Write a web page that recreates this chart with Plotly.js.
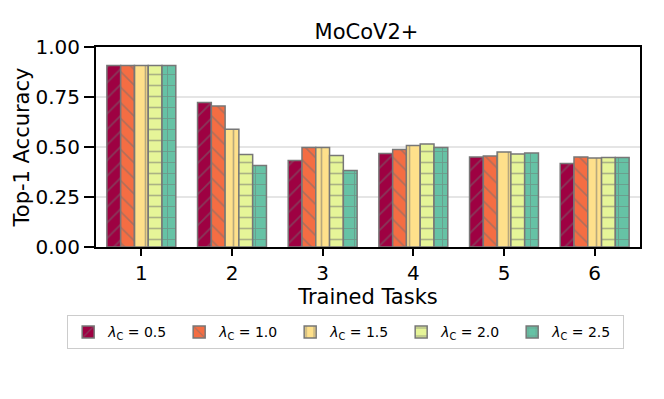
<!DOCTYPE html>
<html><head><meta charset="utf-8">
<script src="https://cdn.plot.ly/plotly-3.0.1.min.js"></script>
<style>body{margin:0;padding:0;background:#fff}</style>
</head><body>
<div id="chart" style="width:664px;height:399px"></div>
<script>
const tasks = [1, 2, 3, 4, 5, 6];
const lambdaLabels = ["0.5", "1.0", "1.5", "2.0", "2.5"];
const acc_05 = [0.908, 0.723, 0.433, 0.467, 0.450, 0.417];
const acc_10 = [0.908, 0.705, 0.498, 0.488, 0.455, 0.450];
const acc_15 = [0.908, 0.589, 0.498, 0.507, 0.475, 0.445];
const acc_20 = [0.908, 0.462, 0.458, 0.515, 0.465, 0.447];
const acc_25 = [0.908, 0.408, 0.382, 0.497, 0.470, 0.447];
const series = [acc_05, acc_10, acc_15, acc_20, acc_25];
const colors = ["#9e0142", "#f46d43", "#fee08b", "#e6f598", "#66c2a5"];
const shapes = ["/", "\\", "|", "-", "+"];

const traces = series.map((vals, i) => ({
  type: "bar",
  x: tasks,
  y: vals,
  name: "<i>λ</i><sub>C</sub> = " + lambdaLabels[i],
  marker: {
    color: colors[i],
    line: {color: "#777777", width: 1.5},
    pattern: {shape: shapes[i], fgcolor: "#707070", size: 11, solidity: 0.15, fillmode: "overlay"}
  }
}));

const layout = {
  width: 664, height: 399,
  margin: {l: 96, r: 24, t: 47, b: 152},
  paper_bgcolor: "#fff", plot_bgcolor: "#fff",
  font: {family: "DejaVu Sans", color: "#000"},
  title: {text: "MoCoV2+", font: {size: 21}, x: 0.5519, xanchor: "center", xref: "container",
          y: 0.902, yanchor: "bottom", yref: "container"},
  barmode: "group",
  bargap: 0.24,
  bargroupgap: 0,
  xaxis: {
    range: [0.5, 6.5],
    tickvals: tasks, ticktext: tasks.map(String),
    ticks: "outside", ticklen: 7, tickwidth: 2, tickcolor: "#000",
    showline: true, linecolor: "#000", linewidth: 2, mirror: true,
    showgrid: false, zeroline: false,
    tickfont: {size: 20},
    title: {text: "Trained Tasks", font: {size: 21}, standoff: 0}
  },
  yaxis: {
    range: [0, 1.0],
    tickvals: [0, 0.25, 0.5, 0.75, 1.0],
    ticktext: ["0.00", "0.25", "0.50", "0.75", "1.00"],
    ticks: "outside", ticklen: 10, tickwidth: 2, tickcolor: "#000",
    showline: true, linecolor: "#000", linewidth: 2, mirror: true,
    showgrid: true, gridcolor: "#e5e5e5", gridwidth: 2, zeroline: false,
    tickfont: {size: 20},
    title: {text: "Top-1 Accuracy", font: {size: 21}, standoff: 0}
  },
  showlegend: true,
  legend: {
    orientation: "h", x: -0.053, xanchor: "left", y: -0.342, yanchor: "top",
    bordercolor: "#cccccc", borderwidth: 1, font: {size: 14},
    entrywidth: 66, entrywidthmode: "pixels", tracegroupgap: 0
  }
};
Plotly.newPlot("chart", traces, layout, {displayModeBar: false, staticPlot: true});
</script>
</body></html>
